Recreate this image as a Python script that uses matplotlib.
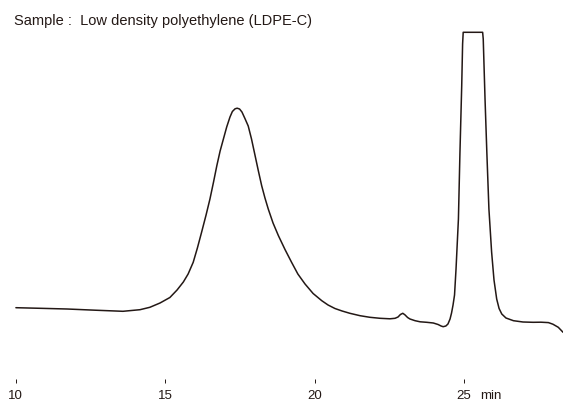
import matplotlib
matplotlib.use("Agg")
import matplotlib.pyplot as plt
import matplotlib.transforms as mtransforms

# Retention time (min) and detector signal (arbitrary units)
time_min = [10.01, 10.82, 11.72, 12.66, 13.59, 14.16, 14.49, 14.83, 15.16, 15.40,
            15.61, 15.77, 15.94, 16.08, 16.22, 16.37, 16.50, 16.62, 16.73, 16.84,
            16.95, 17.06, 17.17, 17.25, 17.34, 17.41, 17.49, 17.57, 17.67, 17.78,
            17.89, 18.01, 18.12, 18.23, 18.34, 18.45, 18.61, 18.79, 19.01, 19.23,
            19.44, 19.68, 19.95, 20.24, 20.45, 20.68, 20.92, 21.18, 21.52, 21.85,
            22.19, 22.52, 22.69, 22.79, 22.87, 22.95, 23.02, 23.11, 23.19, 23.36,
            23.53, 23.75, 23.97, 24.13, 24.23, 24.30, 24.39, 24.46, 24.53, 24.58,
            24.63, 24.68, 24.73, 24.81, 24.86, 24.92, 24.95, 24.97, 25.62, 25.64,
            25.70, 25.76, 25.83, 25.92, 26.00, 26.09, 26.17, 26.26, 26.40, 26.65,
            26.97, 27.31, 27.57, 27.82, 27.97, 28.15, 28.31]
signal = [11.3, 10.7, 10.0, 8.8, 7.7, 9.3, 11.7, 16.0, 21.5, 29.0,
          37.0, 45.0, 56.7, 71.0, 86.7, 104.0, 120.0, 137.0, 153.3, 168.0,
          180.0, 192.0, 202.0, 207.5, 210.2, 210.8, 210.0, 207.0, 200.5, 193.0,
          180.0, 163.3, 148.0, 133.3, 121.0, 110.0, 96.0, 83.3, 69.5, 56.7,
          45.0, 35.0, 25.5, 18.3, 14.0, 10.5, 8.0, 5.7, 3.3, 1.7,
          0.7, 0.2, 0.7, 2.0, 4.5, 5.7, 4.2, 1.5, 0.0, -1.7,
          -2.8, -3.3, -4.0, -5.5, -7.0, -7.7, -7.0, -5.0, 0.0, 6.0,
          14.0, 24.0, 50.0, 100.0, 165.0, 233.0, 275.0, 286.7, 286.7, 280.0,
          220.0, 167.0, 110.0, 67.0, 39.0, 20.0, 10.5, 5.0, 1.0, -1.7,
          -3.0, -3.3, -3.2, -3.6, -5.2, -8.3, -13.3]

tick_values = [10, 15, 20, 25]
tick_labels = ["10", "15", "20", "25"]
unit_label = "min"
title_text = "Sample :  Low density polyethylene (LDPE-C)"

W, H = 563, 402
DPI = 100
ink = "#231815"
plt.rcParams['font.family'] = ['Liberation Sans', 'DejaVu Sans']

fig = plt.figure(figsize=(W / DPI, H / DPI), dpi=DPI)
ax_bottom_px = 384
ax = fig.add_axes([0, (H - ax_bottom_px) / H, 1, ax_bottom_px / H])

ax.plot(time_min, signal, color=ink, lw=1.1, solid_joinstyle='round',
        solid_capstyle='round')

px_per_min = 29.9
x0 = 10 - 15.6 / px_per_min
ax.set_xlim(x0, x0 + W / px_per_min)
ax.set_ylim(320 - ax_bottom_px, 320)

for s in ax.spines.values():
    s.set_visible(False)
ax.set_yticks([])
ax.set_xticks(tick_values)
ax.set_xticklabels(tick_labels)
label_pad = 4.3
ax.tick_params(axis='x', direction='in', length=3.2, width=0.7, color=ink,
               pad=label_pad, labelsize=9.5, labelcolor=ink)

trans = mtransforms.offset_copy(
    mtransforms.blended_transform_factory(ax.transData, ax.transAxes),
    fig=fig, x=15.6 * 72 / DPI, y=-label_pad, units='points')
ax.text(25, 0, unit_label, transform=trans, ha='left', va='top',
        fontsize=9.5, color=ink)

fig.text(14.3 / W, 1 - 25.3 / H, title_text, ha='left', va='baseline',
         fontsize=10.5, color=ink)

fig.savefig("out.png", dpi=DPI)
